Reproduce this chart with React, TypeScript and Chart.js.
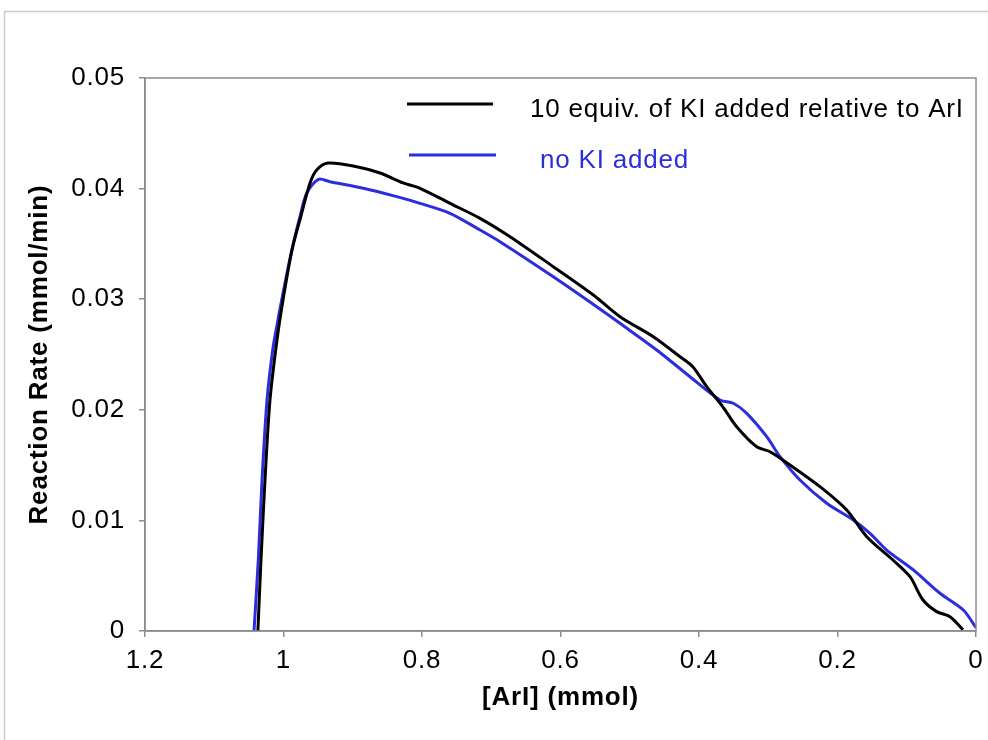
import React, { useEffect, useRef } from 'react';
import { Chart, registerables } from 'chart.js';

Chart.register(...registerables);

// [ArI] (mmol) and reaction rate (mmol/min), 10 equiv. KI added
const kiX = [1.037, 1.0325, 1.0267, 1.0195, 1.0094, 1.0007, 0.9877, 0.9752, 0.9617, 0.9521, 0.9357, 0.8943, 0.8606, 0.8274, 0.8029, 0.7596, 0.7162, 0.6729, 0.6104, 0.5526, 0.5141, 0.466, 0.4274, 0.4087, 0.3889, 0.3653, 0.3456, 0.3167, 0.2975, 0.2686, 0.2253, 0.1867, 0.1578, 0.1199, 0.0953, 0.0765, 0.0568, 0.0375, 0.0188];
const kiY = [0, 0.00642, 0.01365, 0.02089, 0.02631, 0.02993, 0.03445, 0.03743, 0.04051, 0.04168, 0.04231, 0.04198, 0.04141, 0.04051, 0.04003, 0.03867, 0.03731, 0.03565, 0.03294, 0.03038, 0.02842, 0.02661, 0.0248, 0.02387, 0.02209, 0.02025, 0.01847, 0.01666, 0.01621, 0.01501, 0.01305, 0.01094, 0.00853, 0.00642, 0.00491, 0.0028, 0.00175, 0.00129, 0.0001];

// no KI added
const noKiX = [1.0426, 1.0364, 1.031, 1.0238, 1.0156, 1.0098, 1.0026, 0.9931, 0.9858, 0.9762, 0.9665, 0.9497, 0.9329, 0.8848, 0.8365, 0.8029, 0.7596, 0.7162, 0.6874, 0.6104, 0.5477, 0.5141, 0.4611, 0.413, 0.3697, 0.3505, 0.3311, 0.3022, 0.283, 0.2542, 0.2156, 0.1772, 0.1531, 0.129, 0.0905, 0.052, 0.0183, 0.0];
const noKiY = [0, 0.00642, 0.01365, 0.02089, 0.02541, 0.02751, 0.02993, 0.03294, 0.03505, 0.03746, 0.03958, 0.04084, 0.04062, 0.04003, 0.03927, 0.03867, 0.03777, 0.03626, 0.0352, 0.03203, 0.02932, 0.02782, 0.02541, 0.02299, 0.02089, 0.02059, 0.01968, 0.01757, 0.01576, 0.01365, 0.01155, 0.01004, 0.00883, 0.00732, 0.00552, 0.00341, 0.0019, 0.0003];

const xTickValues = [1.2, 1, 0.8, 0.6, 0.4, 0.2, 0];
const yTickValues = [0, 0.01, 0.02, 0.03, 0.04, 0.05];
const seriesLabels = ['10 equiv. of KI added relative to ArI', 'no KI added'];
const seriesColors = ['#000000', '#2d2de0'];
const xTitle = '[ArI] (mmol)';
const yTitle = 'Reaction Rate (mmol/min)';

const FONT = '"Liberation Sans", Arial, Helvetica, sans-serif';
const SPACING = '0.8px';

const setSpacing = (chart: any) => {
  try {
    (chart.ctx as any).letterSpacing = SPACING;
  } catch (e) {
    /* ignore */
  }
};

const decorPlugin = {
  id: 'decor',
  beforeUpdate(chart: any) {
    setSpacing(chart);
  },
  beforeLayout(chart: any) {
    setSpacing(chart);
  },
  beforeDraw(chart: any) {
    setSpacing(chart);
    const ctx = chart.ctx;
    ctx.save();
    ctx.fillStyle = '#ffffff';
    ctx.fillRect(0, 0, chart.width, chart.height);
    ctx.strokeStyle = '#cccccc';
    ctx.lineWidth = 1.5;
    ctx.beginPath();
    ctx.moveTo(4.5, chart.height + 2);
    ctx.lineTo(4.5, 11.5);
    ctx.lineTo(chart.width + 2, 11.5);
    ctx.stroke();
    ctx.restore();
  },
  afterDraw(chart: any) {
    const ctx = chart.ctx;
    const a = chart.chartArea;
    ctx.save();
    ctx.strokeStyle = '#8c8c8c';
    ctx.lineWidth = 1.5;
    ctx.strokeRect(a.left, a.top, a.right - a.left, a.bottom - a.top);
    // legend
    const rows = [
      { y: a.top + 26, x1: a.left + 262, x2: a.left + 348, tx: a.left + 385 },
      { y: a.top + 77, x1: a.left + 264, x2: a.left + 351, tx: a.left + 395 },
    ];
    rows.forEach((r, i) => {
      ctx.strokeStyle = seriesColors[i];
      ctx.lineWidth = 3;
      ctx.beginPath();
      ctx.moveTo(r.x1, r.y);
      ctx.lineTo(r.x2, r.y);
      ctx.stroke();
      ctx.fillStyle = seriesColors[i];
      ctx.font = `26px ${FONT}`;
      ctx.textBaseline = 'middle';
      ctx.textAlign = 'left';
      ctx.fillText(seriesLabels[i], r.tx, r.y + 6);
    });
    ctx.restore();
  },
};

export default function App() {
  const canvasRef = useRef<HTMLCanvasElement | null>(null);

  useEffect(() => {
    const canvas = canvasRef.current;
    if (!canvas) return;
    const toPoints = (xs: number[], ys: number[]) => xs.map((x, i) => ({ x, y: ys[i] }));
    const chart = new Chart(canvas, {
      type: 'scatter',
      data: {
        datasets: [
          {
            label: seriesLabels[0],
            data: toPoints(kiX, kiY),
            showLine: true,
            borderColor: seriesColors[0],
            backgroundColor: seriesColors[0],
            borderWidth: 3,
            pointRadius: 0,
            tension: 0.3,
          },
          {
            label: seriesLabels[1],
            data: toPoints(noKiX, noKiY),
            showLine: true,
            borderColor: seriesColors[1],
            backgroundColor: seriesColors[1],
            borderWidth: 3,
            pointRadius: 0,
            tension: 0.3,
          },
        ],
      },
      options: {
        animation: false,
        responsive: false,
        devicePixelRatio: 1,
        layout: { padding: { top: 78, right: 12, left: 0, bottom: 0 } },
        plugins: { legend: { display: false }, tooltip: { enabled: false } },
        scales: {
          x: {
            type: 'linear',
            reverse: true,
            min: 0,
            max: 1.2,
            afterBuildTicks: (s: any) => {
              s.ticks = xTickValues.map((v) => ({ value: v }));
            },
            afterFit: (s: any) => {
              s.height = 109;
              s.paddingRight = 0;
              s.paddingLeft = 0;
            },
            ticks: {
              color: '#000',
              font: { family: FONT, size: 26 },
              padding: 8,
              maxRotation: 0,
              autoSkip: false,
              callback: (v: any) => String(Number(Number(v).toFixed(2))),
            },
            grid: { display: true, drawOnChartArea: false, drawTicks: true, tickLength: 6, color: '#8c8c8c', lineWidth: 1.5 },
            border: { display: true, color: '#8c8c8c', width: 1.5 },
            title: {
              display: true,
              text: xTitle,
              color: '#000',
              font: { family: FONT, size: 26, weight: 'bold' },
              padding: { top: 0, bottom: 27 },
            },
          },
          y: {
            type: 'linear',
            min: 0,
            max: 0.05,
            afterBuildTicks: (s: any) => {
              s.ticks = yTickValues.map((v) => ({ value: v }));
            },
            afterFit: (s: any) => {
              s.width = 145;
            },
            ticks: {
              color: '#000',
              font: { family: FONT, size: 26 },
              padding: 14,
              autoSkip: false,
              callback: (v: any) => String(Number(Number(v).toFixed(3))),
            },
            grid: { display: true, drawOnChartArea: false, drawTicks: true, tickLength: 6, color: '#8c8c8c', lineWidth: 1.5 },
            border: { display: true, color: '#8c8c8c', width: 1.5 },
            title: {
              display: true,
              text: yTitle,
              color: '#000',
              font: { family: FONT, size: 26, weight: 'bold' },
              padding: { top: 24, bottom: 0 },
            },
          },
        },
      },
      plugins: [decorPlugin],
    });
    return () => chart.destroy();
  }, []);

  return (
    <div style={{ position: 'fixed', left: 0, top: 0, width: 988, height: 740, background: '#fff' }}>
      <canvas ref={canvasRef} width={988} height={740} style={{ width: 988, height: 740, display: 'block' }} />
    </div>
  );
}
